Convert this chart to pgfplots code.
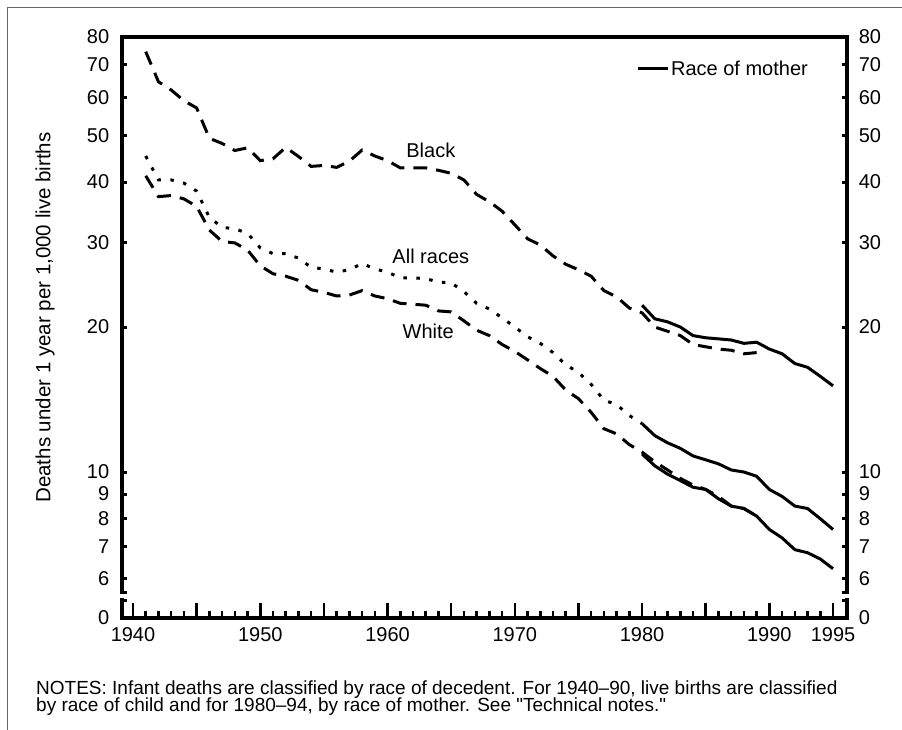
\documentclass[border=0pt]{standalone}
\usepackage{fontspec}
\setmainfont{Liberation Sans}
\newfontfamily\notesfont{Liberation Sans}[Ligatures=TeXOff]
\usepackage{pgfplots}
\pgfplotsset{compat=1.18}

\begin{document}
\begin{tikzpicture}
\useasboundingbox (0bp,0bp) rectangle (902bp,-730bp);
\draw[black!60, line width=1bp] (7bp,-730bp) -- (7bp,-7bp) -- (902bp,-7bp);

% upper, log part of the chart
\begin{axis}[
  at={(122bp,-592bp)}, anchor=south west,
  scale only axis, width=725bp, height=555bp,
  xmin=1939.136, xmax=1996.1,
  ymode=log, ymin=5.636, ymax=80,
  axis x line*=top, axis y line*=box,
  axis line style={line width=3.8bp, -, line cap=rect},
  xtick=\empty,
  ytick={5.636,6,7,8,9,10,20,30,40,50,60,70,80},
  yticklabels={,6,7,8,9,10,20,30,40,50,60,70,80},
  ytick pos=both,
  tick align=inside, major tick length=5bp,
  tick style={line width=3bp, black},
  /pgf/number format/assume math mode=true,
  tick label style={font=\fontsize{20bp}{23bp}\selectfont},
  yticklabel style={anchor=east, xshift=-9.3bp},
  ylabel={Deaths under 1 year per 1,000 live births},
  every axis y label/.style={at={(rel axis cs:0,0.5)}, xshift=-77bp, yshift=-3bp, rotate=90, anchor=center,
    font=\fontsize{20.5bp}{23bp}\selectfont},
  legend style={at={(rel axis cs:0.949,0.943)}, anchor=east, draw=none, fill=none,
    font=\fontsize{20bp}{23bp}\selectfont, inner sep=0pt},
  legend image code/.code={\draw[line width=3bp] (0bp,0bp) -- (30bp,0bp);},
  clip=false,
]
% Black, race of child
\addplot[black, line width=3bp, dash pattern=on 14bp off 9bp, forget plot] coordinates {
(1941,74.6) (1942,64.6) (1943,62.1) (1944,59.0) (1945,57.0) (1946,49.3) (1947,48.1)
(1948,46.5) (1949,47.1) (1950,44.3) (1951,44.7) (1952,47.2) (1953,45.2) (1954,43.1)
(1955,43.3) (1956,42.9) (1957,44.2) (1958,46.6) (1959,45.3) (1960,44.3) (1961,42.8)
(1962,42.8) (1963,42.8) (1964,42.3) (1965,41.7) (1966,40.4) (1967,37.7) (1968,36.4)
(1969,34.8) (1970,32.6) (1971,30.5) (1972,29.6) (1973,28.1) (1974,27.0) (1975,26.3)
(1976,25.5) (1977,23.8) (1978,23.1) (1979,21.9) (1980,21.4) (1981,20.0) (1982,19.6)
(1983,19.2) (1984,18.4) (1985,18.2) (1986,18.0) (1987,17.9) (1988,17.6) (1989,17.7)};
% White, race of child
\addplot[black, line width=3bp, dash pattern=on 14bp off 9bp, forget plot] coordinates {
(1941,41.2) (1942,37.3) (1943,37.5) (1944,36.9) (1945,35.6) (1946,31.8) (1947,30.1)
(1948,29.9) (1949,28.9) (1950,26.8) (1951,25.8) (1952,25.5) (1953,25.0) (1954,23.9)
(1955,23.6) (1956,23.2) (1957,23.3) (1958,23.8) (1959,23.2) (1960,22.9) (1961,22.4)
(1962,22.3) (1963,22.2) (1964,21.6) (1965,21.5) (1966,20.6) (1967,19.7) (1968,19.2)
(1969,18.4) (1970,17.8) (1971,17.1) (1972,16.4) (1973,15.8) (1974,14.8) (1975,14.2)
(1976,13.3) (1977,12.3) (1978,12.0) (1979,11.4) (1980,11.0) (1981,10.5) (1982,10.1)
(1983,9.7) (1984,9.4) (1985,9.2) (1986,8.9) (1987,8.5) (1988,8.4) (1989,8.1)};
% All races
\addplot[black, line width=3bp, dash pattern=on 3.5bp off 9.5bp, forget plot] coordinates {
(1941,45.3) (1942,40.4) (1943,40.4) (1944,39.8) (1945,38.3) (1946,33.8) (1947,32.2)
(1948,32.0) (1949,31.3) (1950,29.2) (1951,28.4) (1952,28.4) (1953,27.8) (1954,26.6)
(1955,26.4) (1956,26.0) (1957,26.3) (1958,27.1) (1959,26.4) (1960,26.0) (1961,25.3)
(1962,25.3) (1963,25.2) (1964,24.8) (1965,24.7) (1966,23.7) (1967,22.4) (1968,21.8)
(1969,20.9) (1970,20.0) (1971,19.1) (1972,18.5) (1973,17.7) (1974,16.7) (1975,16.1)
(1976,15.2) (1977,14.1) (1978,13.8) (1979,13.1) (1980,12.6)};
% Race of mother
\addplot[black, line width=3bp] coordinates {
(1980,22.2) (1981,20.8) (1982,20.5) (1983,20.0) (1984,19.2) (1985,19.0) (1986,18.9)
(1987,18.8) (1988,18.5) (1989,18.6) (1990,18.0) (1991,17.6) (1992,16.8) (1993,16.5)
(1994,15.8) (1995,15.1)};
\addlegendentry{Race of mother}
\addplot[black, line width=3bp, forget plot] coordinates {
(1980,12.6) (1981,11.9) (1982,11.5) (1983,11.2) (1984,10.8) (1985,10.6) (1986,10.4)
(1987,10.1) (1988,10.0) (1989,9.8) (1990,9.2) (1991,8.9) (1992,8.5) (1993,8.4)
(1994,8.0) (1995,7.6)};
\addplot[black, line width=3bp, forget plot] coordinates {
(1980,10.9) (1981,10.3) (1982,9.9) (1983,9.6) (1984,9.3) (1985,9.2) (1986,8.8)
(1987,8.5) (1988,8.4) (1989,8.1) (1990,7.6) (1991,7.3) (1992,6.9) (1993,6.8)
(1994,6.6) (1995,6.3)};
\node[font=\fontsize{20bp}{23bp}\selectfont] at (axis cs:1963.4,46.6) {Black};
\node[font=\fontsize{20bp}{23bp}\selectfont] at (axis cs:1963.4,28.1) {All races};
\node[font=\fontsize{20bp}{23bp}\selectfont] at (axis cs:1963.2,19.6) {White};
\end{axis}

% right-hand tick labels
\begin{axis}[
  at={(122bp,-592bp)}, anchor=south west,
  scale only axis, width=725bp, height=555bp,
  xmin=1939.136, xmax=1996.1,
  ymode=log, ymin=5.636, ymax=80,
  axis line style={draw=none}, tick style={draw=none},
  xtick=\empty,
  ytick={6,7,8,9,10,20,30,40,50,60,70,80},
  yticklabels={6,7,8,9,10,20,30,40,50,60,70,80},
  yticklabel pos=right,
  tick label style={font=\fontsize{20bp}{23bp}\selectfont},
  yticklabel style={anchor=west, xshift=8.3bp},
]
\end{axis}

% lower part with the zero and the years
\begin{axis}[
  at={(122bp,-618bp)}, anchor=south west,
  scale only axis, width=725bp, height=18bp,
  xmin=1939.136, xmax=1996.1,
  ymin=0, ymax=1,
  axis x line*=bottom, axis y line*=box,
  axis line style={line width=3.8bp, -, line cap=rect},
  xtick={1940,1945,...,1995},
  xticklabels={1940,,1950,,1960,,1970,,1980,,1990,1995},
  minor x tick num=4,
  ytick={0}, yticklabels={0},
  tick align=inside, major tick length=15bp, minor tick length=7bp,
  tick style={line width=2.6bp, black},
  tick label style={font=\fontsize{20bp}{23bp}\selectfont},
  yticklabel style={anchor=east, xshift=-9.3bp},
  xticklabel style={yshift=-6bp},
  clip=false,
]
\draw[line width=3bp] (rel axis cs:0,1) -- ++(5bp,0bp);
\draw[line width=3bp] (rel axis cs:1,1) -- ++(-5bp,0bp);
\node[anchor=west, xshift=8.3bp, font=\fontsize{20bp}{23bp}\selectfont] at (rel axis cs:1,0) {0};
\end{axis}

\node[anchor=base west, inner sep=0pt, font=\notesfont\fontsize{19bp}{19bp}\selectfont] at (36bp,-694bp)
  {NOTES: Infant deaths are classified by race of decedent. For 1940–90, live births are classified};
\node[anchor=base west, inner sep=0pt, font=\notesfont\fontsize{19bp}{19bp}\selectfont] at (36bp,-711.5bp)
  {by race of child and for 1980–94, by race of mother. See "Technical notes."};
\end{tikzpicture}
\end{document}
